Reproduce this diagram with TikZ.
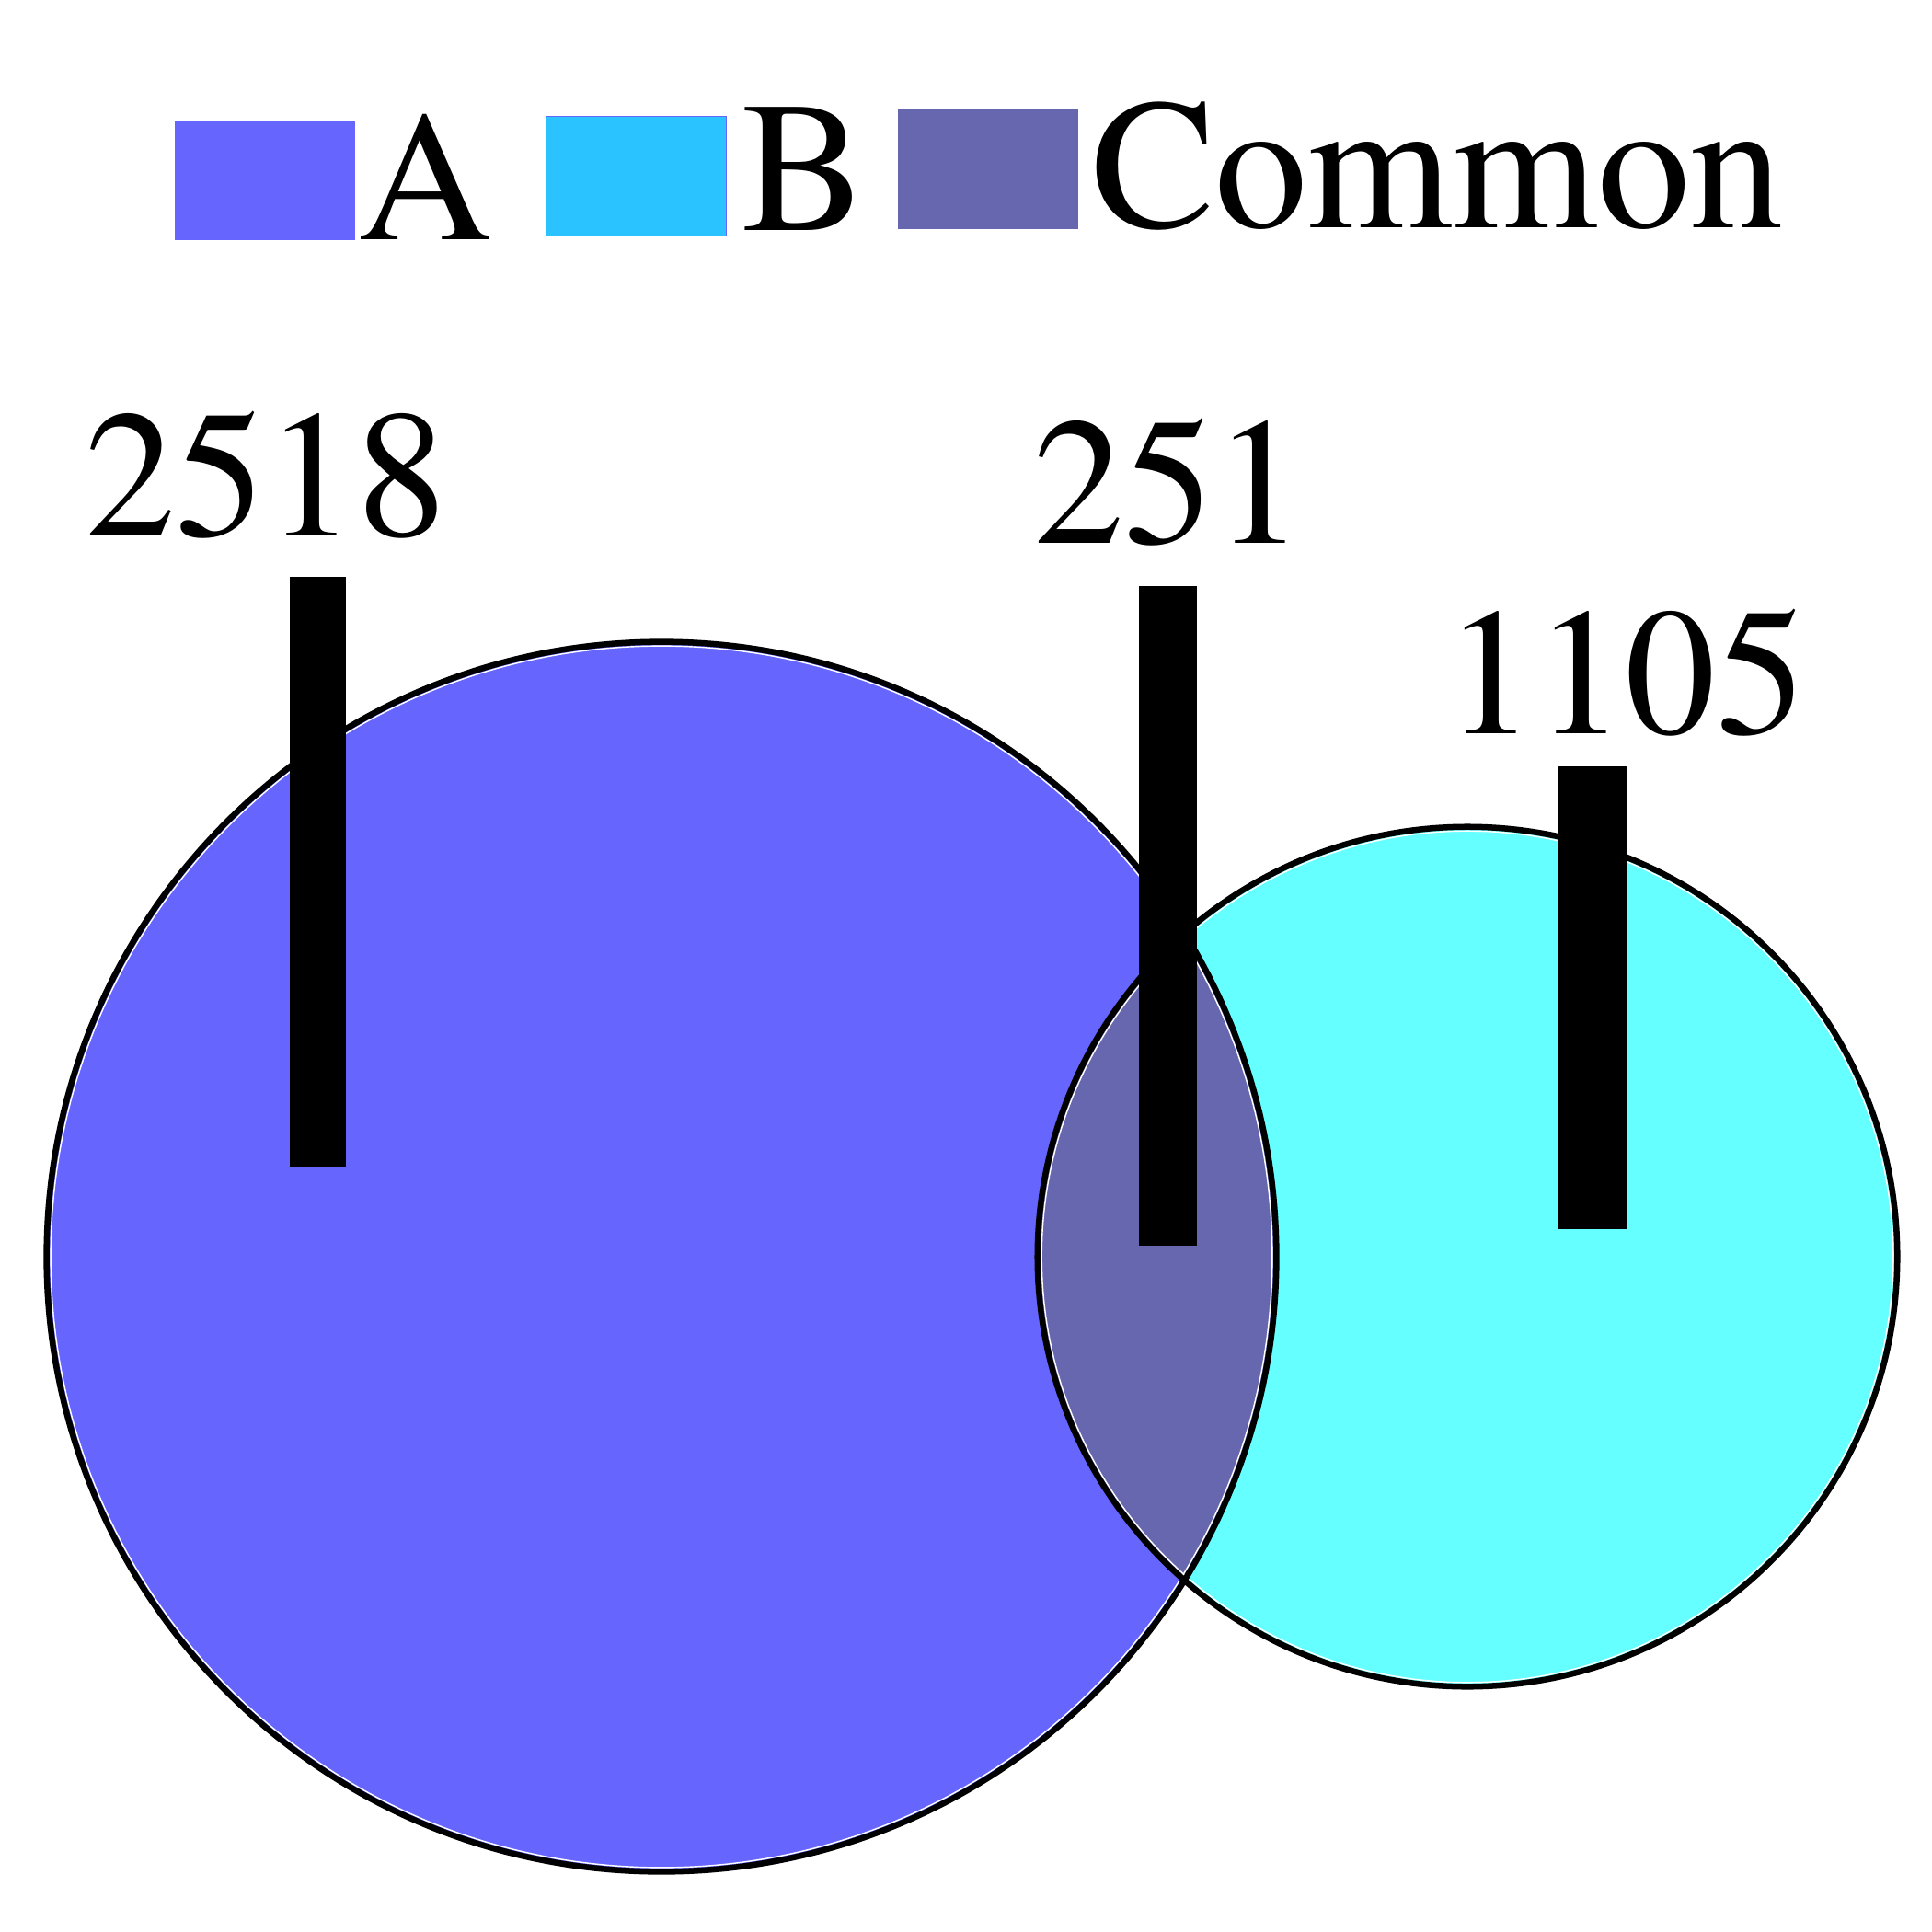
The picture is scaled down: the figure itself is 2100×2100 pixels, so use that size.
\documentclass[tikz,border=0pt]{standalone}
\usepackage{fontspec}
\setmainfont{texgyretermes}[Extension=.otf, UprightFont=*-regular]
\definecolor{colA}{RGB}{102,102,255}
\definecolor{colB}{RGB}{102,255,255}
\definecolor{colC}{RGB}{103,103,176}
\definecolor{legB}{RGB}{42,194,255}
\tikzset{
  lbl/.style={inner sep=0pt, outer sep=0pt, font=\fontsize{57.5}{60}\selectfont, text=black},
  numlbl/.style={inner sep=0pt, outer sep=0pt, font=\fontsize{56}{60}\selectfont, text=black},
  ring/.style={draw=black, line width=0.065cm},
  innerring/.style={draw=white, line width=0.014cm},
  barbox/.style={fill=black}
}
\begin{document}
\begin{tikzpicture}[x=0.01cm,y=-0.01cm]
\useasboundingbox[fill=white] (0,0) rectangle (2100,2100);
% legend
\fill[colA] (190,132) rectangle (386,261);
\node[lbl, anchor=base west] (legA) at (389,261) {A};
\filldraw[fill=legB, draw=colA, line width=0.01cm] (593,127) rectangle (789,256);
\node[lbl, anchor=base west] (legB) at (806,251) {B};
\fill[colC] (976,119) rectangle (1172,249);
\node[lbl, anchor=base west] (legC) at (1186,248) {Common};
% circles
\coordinate (cA) at (719,1366);
\coordinate (cB) at (1595,1366);
\fill[colA] (cA) circle[radius=6.68cm];
\fill[colB] (cB) circle[radius=4.67cm];
\begin{scope}
  \clip (cA) circle[radius=6.68cm];
  \fill[colC] (cB) circle[radius=4.67cm];
\end{scope}
\draw[innerring] (cA) circle[radius=6.635cm];
\draw[innerring] (cB) circle[radius=4.625cm];
\draw[ring] (cA) circle[radius=6.68cm];
\draw[ring] (cB) circle[radius=4.67cm];
% bars
\fill[barbox] (315,627) rectangle (376,1268);
\fill[barbox] (1238,637) rectangle (1301,1354);
\fill[barbox] (1693,833) rectangle (1768,1336);
% numbers
\node[numlbl, anchor=base west] (nA) at (92,582) {2518};
\node[numlbl, anchor=base west] (nC) at (1123,590) {251};
\node[numlbl, anchor=base west] (nB) at (1570,797) {1105};
\end{tikzpicture}
\end{document}
